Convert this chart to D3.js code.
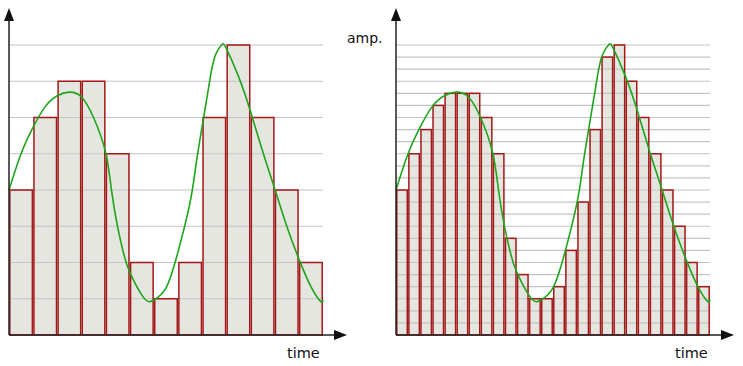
<!DOCTYPE html>
<html>
<head>
<meta charset="utf-8">
<script src="https://cdn.jsdelivr.net/npm/d3@7"></script>
<style>
  body { margin: 0; background: #fff; }
  svg { display: block; }
</style>
</head>
<body>
<svg id="chart"></svg>
<script>
const SIZE = { width: 743, height: 366 }

// signal samples: time in fine steps (0..26), amplitude in fine levels (0..24)
const curveT = [0, 1, 2, 3, 4, 5, 6, 7, 8, 8.5, 9, 9.5, 10, 11, 11.6, 12, 13, 14, 15, 15.5, 16, 16.5, 17, 17.6, 18, 19, 20, 21, 22, 23, 24, 25, 25.8, 26]
const curveA = [12, 15, 17.2, 18.9, 19.8, 20.1, 19.7, 18, 15.1, 11.9, 8.9, 6.7, 5.2, 3.3, 2.75, 2.9, 3.9, 6.9, 11, 14.2, 17.3, 20.3, 22.9, 24, 23.7, 21.4, 18.5, 15.2, 12.1, 9, 6.3, 4, 2.78, 2.9]

// coarse quantisation: 13 samples, 8 levels (3 fine levels each)
const coarseBars = [12, 18, 21, 21, 15, 6, 3, 6, 18, 24, 18, 12, 6]
const coarseLevels = [3, 6, 9, 12, 15, 18, 21, 24]

// fine quantisation: 26 samples, 24 levels
const fineBars = [12, 15, 17, 19, 20, 20, 20, 18, 15, 8, 5, 3, 3, 4, 7, 11, 17, 23, 24, 21, 18, 15, 12, 9, 6, 4]
const fineLevels = d3.range(1, 25)

const panels = [
  { left: 9, right: 323, bars: coarseBars, levels: coarseLevels, arrowX: 347, label: "time", labelX: 287, amp: false },
  { left: 396, right: 710, bars: fineBars, levels: fineLevels, arrowX: 734, label: "time", labelX: 675, amp: true },
]

const body = d3.select("svg#chart").attr("width", SIZE.width).attr("height", SIZE.height)
  .style("font-family", "'DejaVu Sans', sans-serif")

const yScale = d3.scaleLinear().domain([0, 24]).range([335, 45])

panels.forEach(p => {
  const g = body.append("g")
  const n = p.bars.length
  const xBar = d3.scaleLinear().domain([0, n]).range([p.left, p.right])
  const xT = d3.scaleLinear().domain([0, 26]).range([p.left, p.right])

  // bar fills
  g.selectAll(".bar-fill").data(p.bars).enter().append("rect")
    .attr("x", (d, i) => xBar(i) + 0.8)
    .attr("width", xBar(1) - xBar(0) - 1.6)
    .attr("y", d => yScale(d))
    .attr("height", d => yScale(0) - yScale(d))
    .attr("fill", "#e6e6e0")

  // grid lines
  g.selectAll(".grid").data(p.levels).enter().append("line")
    .attr("x1", p.left).attr("x2", p.right)
    .attr("y1", d => yScale(d)).attr("y2", d => yScale(d))
    .attr("stroke", "#c4c4c4").attr("stroke-width", 1.2)

  // bar outlines
  g.selectAll(".bar").data(p.bars).enter().append("rect")
    .attr("x", (d, i) => xBar(i) + 0.8)
    .attr("width", xBar(1) - xBar(0) - 1.6)
    .attr("y", d => yScale(d))
    .attr("height", d => yScale(0) - yScale(d))
    .attr("fill", "none")
    .attr("stroke", "#a31818").attr("stroke-width", 1.5)

  // signal
  const line = d3.line().x(d => xT(d[0])).y(d => yScale(d[1])).curve(d3.curveNatural)
  g.append("path").datum(d3.zip(curveT, curveA))
    .attr("d", line)
    .attr("fill", "none").attr("stroke", "#1ea51e").attr("stroke-width", 1.6)

  // axes with arrows
  g.append("line").attr("x1", p.left).attr("x2", p.left).attr("y1", yScale(0)).attr("y2", 20)
    .attr("stroke", "#222").attr("stroke-width", 1.5)
  g.append("path").attr("d", `M${p.left},8 L${p.left - 5},21 L${p.left + 5},21 Z`).attr("fill", "#111")
  g.append("line").attr("x1", p.left).attr("x2", p.arrowX - 10).attr("y1", yScale(0)).attr("y2", yScale(0))
    .attr("stroke", "#222").attr("stroke-width", 1.5)
  g.append("path").attr("d", `M${p.arrowX},${yScale(0)} L${p.arrowX - 13},${yScale(0) - 5} L${p.arrowX - 13},${yScale(0) + 5} Z`).attr("fill", "#111")

  g.append("text").attr("x", p.labelX).attr("y", 358).attr("font-size", 14.5).attr("fill", "#111").text(p.label)
  if (p.amp) {
    g.append("text").attr("x", 347).attr("y", 43).attr("font-size", 14).attr("fill", "#111").text("amp.")
  }
})
</script>
</body>
</html>
